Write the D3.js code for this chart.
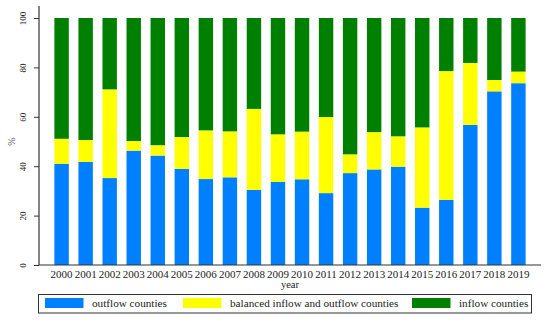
<!DOCTYPE html>
<html>
<head>
<meta charset="utf-8">
<script src="https://cdn.jsdelivr.net/npm/d3@7"></script>
<style>
  html, body { margin: 0; padding: 0; background: #fff; }
  svg { display: block; font-family: "Liberation Serif", "Times New Roman", serif; }
</style>
</head>
<body>
<svg id="chart" width="550" height="321"></svg>
<script>
const years = ["2000","2001","2002","2003","2004","2005","2006","2007","2008","2009",
               "2010","2011","2012","2013","2014","2015","2016","2017","2018","2019"];
const outflow  = [41.0, 41.7, 35.2, 46.3, 44.3, 38.9, 34.8, 35.5, 30.4, 33.6,
                  34.7, 29.1, 37.2, 38.7, 39.8, 23.2, 26.4, 56.7, 70.3, 73.6];
const balanced = [10.1,  8.9, 35.9,  3.9,  4.2, 12.9, 19.7, 18.6, 32.8, 19.3,
                  19.3, 30.8,  7.6, 15.1, 12.3, 32.5, 52.1, 25.1,  4.6,  4.7];
const inflow   = [48.9, 49.4, 28.9, 49.8, 51.5, 48.2, 45.5, 45.9, 36.8, 47.1,
                  46.0, 40.1, 55.2, 46.2, 47.9, 44.3, 21.5, 18.2, 25.1, 21.7];
const yTicks = [0, 20, 40, 60, 80, 100];
const seriesNames = ["outflow counties", "balanced inflow and outflow counties", "inflow counties"];
const seriesColors = ["#0080FF", "#FFFF00", "#008000"];

(function () {
const svg = d3.select("#chart");
const mLeft = 39, mRight = 541, mTop = 18, mBottom = 265;
const serif = "'Liberation Serif', 'Times New Roman', serif";

const x = d3.scaleBand().domain(years).range([mLeft, mRight]).paddingInner(0.4).paddingOuter(0.64);
const y = d3.scaleLinear().domain([0, 100]).range([mBottom, mTop]);

const rows = years.map((yr, i) => ({ year: yr, o: outflow[i], b: balanced[i], n: inflow[i] }));
const stack = d3.stack().keys(["o", "b", "n"]);
const layers = stack(rows);

svg.append("g").selectAll("g").data(layers).join("g")
  .attr("fill", (d, i) => seriesColors[i])
  .selectAll("rect").data(d => d).join("rect")
  .attr("x", d => x(d.data.year))
  .attr("width", x.bandwidth())
  .attr("y", d => y(d[1]))
  .attr("height", d => y(d[0]) - y(d[1]));

// Y axis
const yAxis = svg.append("g").attr("transform", `translate(${mLeft},0)`)
  .call(d3.axisLeft(y).tickValues(yTicks).tickSize(5).tickFormat(d3.format("d")));
yAxis.select(".domain").remove();
yAxis.selectAll(".tick line").attr("stroke", "#333");
yAxis.selectAll(".tick text")
  .attr("x", 0).attr("y", 0).attr("dy", null)
  .attr("transform", "translate(-13,0) rotate(-90)")
  .attr("text-anchor", "middle")
  .attr("font-size", 9)
  .attr("fill", "#222")
  .style("font-family", serif);
svg.append("line").attr("x1", mLeft).attr("x2", mLeft).attr("y1", 6).attr("y2", mBottom)
  .attr("stroke", "#333").attr("stroke-width", 1.2);

// X axis
svg.append("line").attr("x1", mLeft).attr("x2", mRight).attr("y1", mBottom).attr("y2", mBottom)
  .attr("stroke", "#333").attr("stroke-width", 1.2);
const xAxis = svg.append("g").attr("transform", `translate(0,${mBottom})`)
  .call(d3.axisBottom(x).tickSize(0).tickPadding(0));
xAxis.select(".domain").remove();
xAxis.selectAll(".tick text")
  .attr("y", 13).attr("dy", null)
  .attr("font-size", 11)
  .attr("fill", "#222")
  .style("font-family", serif);

// Axis titles
svg.append("text").attr("x", (mLeft + mRight) / 2).attr("y", 287.5)
  .attr("text-anchor", "middle").attr("font-size", 10.5).attr("fill", "#222")
  .style("font-family", serif).text("year");
svg.append("text").attr("transform", `translate(15,${(mTop + mBottom) / 2}) rotate(-90)`)
  .attr("text-anchor", "middle").attr("font-size", 10).attr("fill", "#555")
  .style("font-family", serif).text("%");

// Legend
svg.append("rect").attr("x", 38.5).attr("y", 294.5).attr("width", 493).attr("height", 18.5)
  .attr("fill", "none").attr("stroke", "#333").attr("stroke-width", 1);
const legendX = [45, 183, 412];
const lg = svg.append("g").selectAll("g").data(seriesNames).join("g")
  .attr("transform", (d, i) => `translate(${legendX[i]},298)`);
lg.append("rect").attr("width", 38.5).attr("height", 10).attr("fill", (d, i) => seriesColors[i]);
lg.append("text").attr("x", 47).attr("y", 9).attr("font-size", 11.2).attr("fill", "#222")
  .style("font-family", serif).text(d => d);
})();
</script>
</body>
</html>
